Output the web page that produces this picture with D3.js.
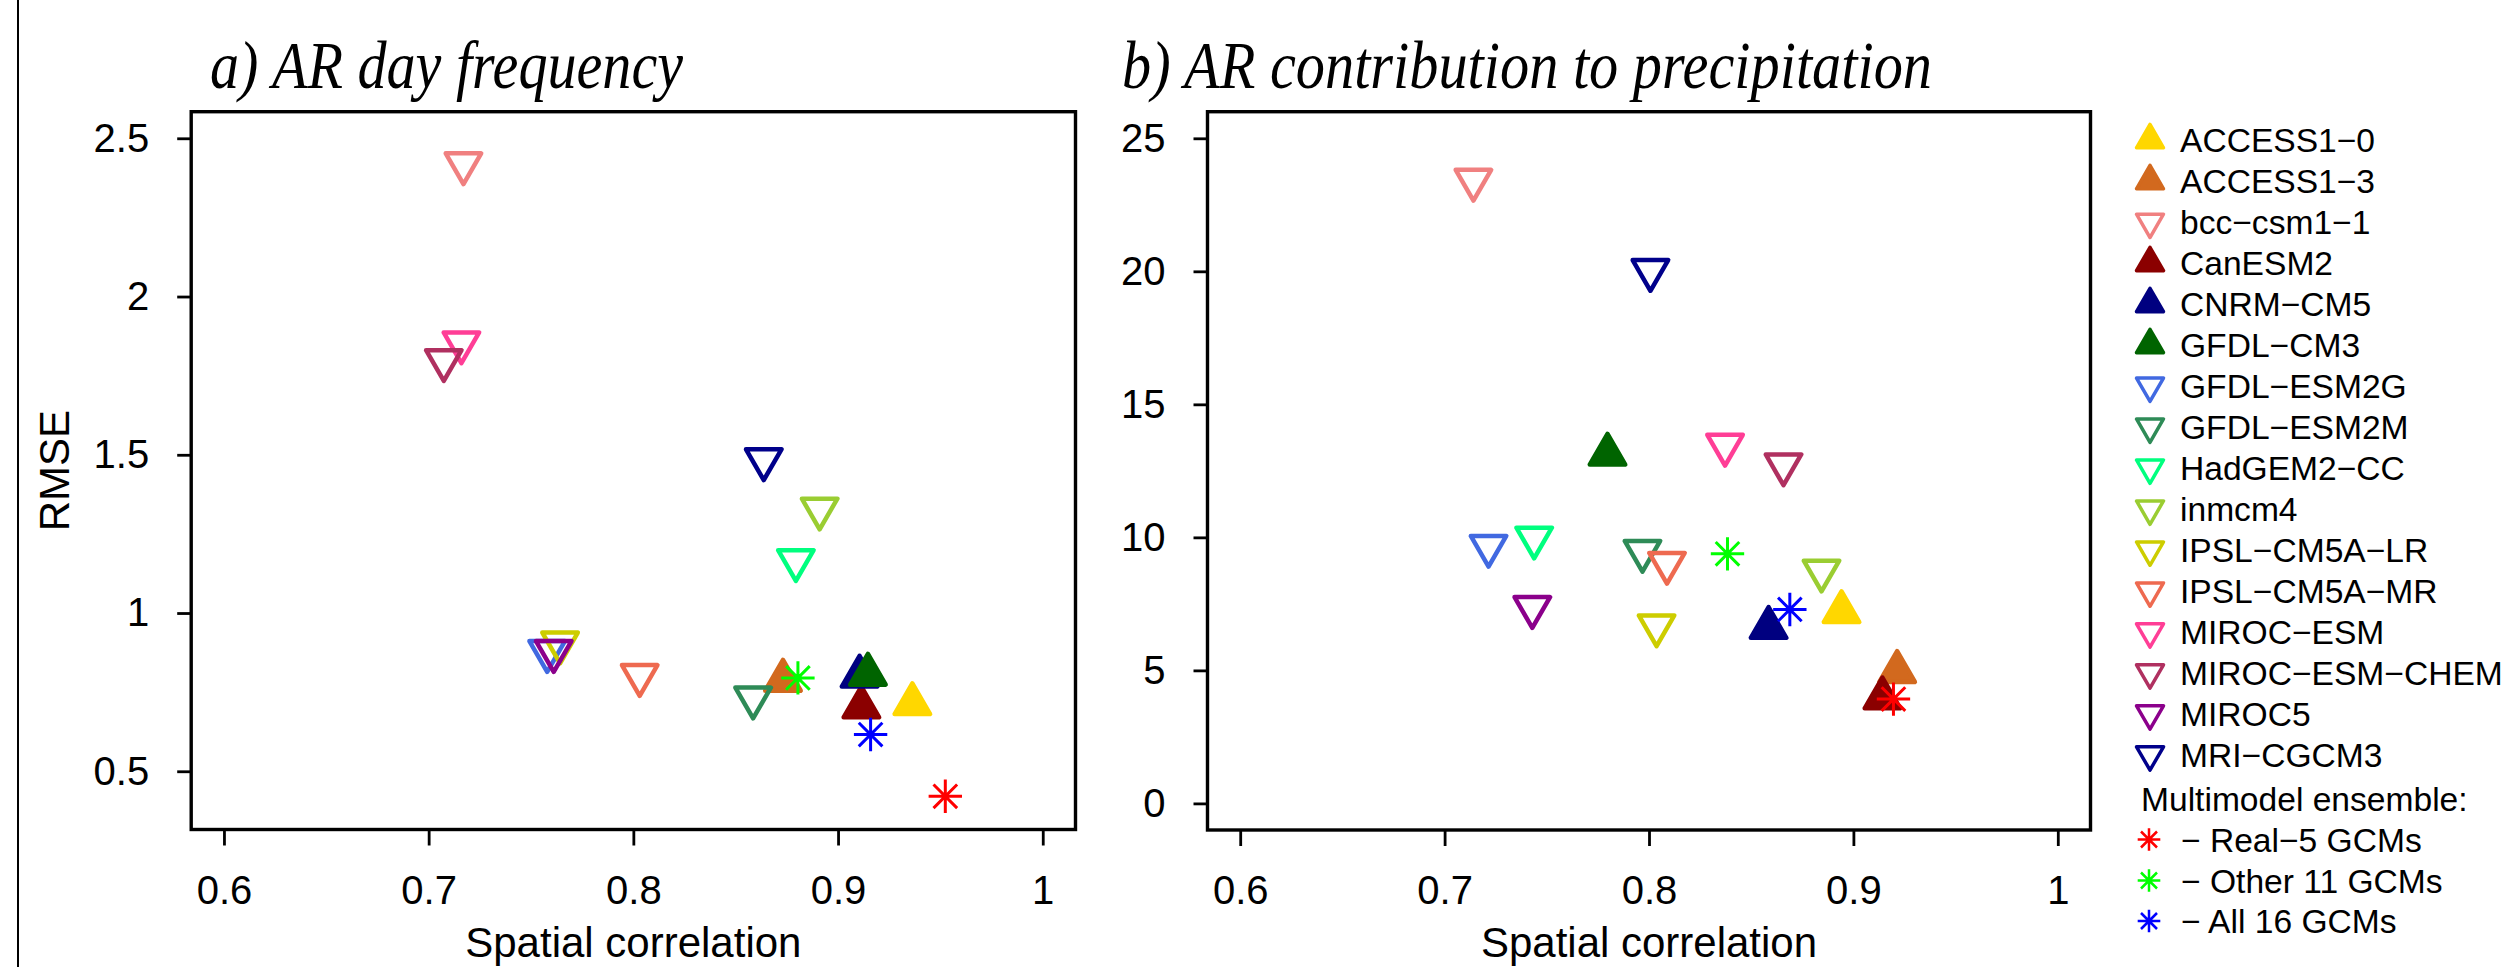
<!DOCTYPE html>
<html><head><meta charset="utf-8">
<script src="https://cdn.jsdelivr.net/npm/d3@7"></script>
<style>html,body{margin:0;padding:0;background:#fff;}</style>
</head><body>
<script>
// ---------------- data ----------------
const models = ["ACCESS1\u22120","ACCESS1\u22123","bcc\u2212csm1\u22121","CanESM2","CNRM\u2212CM5","GFDL\u2212CM3",
  "GFDL\u2212ESM2G","GFDL\u2212ESM2M","HadGEM2\u2212CC","inmcm4","IPSL\u2212CM5A\u2212LR","IPSL\u2212CM5A\u2212MR",
  "MIROC\u2212ESM","MIROC\u2212ESM\u2212CHEM","MIROC5","MRI\u2212CGCM3"];
const markerType = ["up","up","down","up","up","up","down","down","down","down","down","down","down","down","down","down"];
const modelColors = ["#FFD700","#D2691E","#F08080","#8B0000","#000080","#006400","#4169E1","#2E8B57",
  "#00FF7F","#9ACD32","#CDCD00","#EE6A50","#FF3E96","#B03060","#8B008B","#00008B"];

// panel a: AR day frequency
const freqCorr = [0.9363,0.8731,0.717,0.9114,0.9105,0.9146,0.7579,0.8585,0.8794,0.891,0.7642,0.8031,0.716,0.7074,0.7611,0.8637];
const freqRmse = [0.713,0.787,2.42,0.703,0.800,0.806,0.879,0.732,1.166,1.329,0.906,0.803,1.854,1.798,0.879,1.485];
// panel b: AR contribution to precipitation
const contCorr = [0.8942,0.9214,0.7141,0.9142,0.8585,0.7797,0.7215,0.7968,0.7438,0.8844,0.8037,0.8088,0.8372,0.8658,0.7429,0.8007];
const contRmse = [7.2,4.95,23.43,3.96,6.61,13.12,9.67,9.48,9.98,8.74,6.68,9.03,13.47,12.73,7.37,20.04];

// multimodel ensembles
const ensLabels = ["\u2212 Real\u22125 GCMs","\u2212 Other 11 GCMs","\u2212 All 16 GCMs"];
const ensColors = ["#FF0000","#00FF00","#0000FF"];
const ensFreqCorr = [0.9524,0.8804,0.9159];
const ensFreqRmse = [0.421,0.795,0.616];
const ensContCorr = [0.9196,0.8384,0.8689];
const ensContRmse = [3.92,9.38,7.29];

const xTicks = [0.6,0.7,0.8,0.9,1];
const xTickLabels = ["0.6","0.7","0.8","0.9","1"];
const yTicksA = [0.5,1,1.5,2,2.5];
const yTickLabelsA = ["0.5","1","1.5","2","2.5"];
const yTicksB = [0,5,10,15,20,25];
const yTickLabelsB = ["0","5","10","15","20","25"];
const titles = ["a) AR day frequency","b) AR contribution to precipitation"];
const xLabel = "Spatial correlation";
const yLabel = "RMSE";
const ensHeader = "Multimodel ensemble:";

// ---------------- drawing ----------------
const W = 2508, H = 967;
const SANS = "'Liberation Sans', Arial, Helvetica, sans-serif";
const SERIF = "'Liberation Serif', 'Times New Roman', serif";
const svg = d3.select("body").append("svg").attr("width", W).attr("height", H)
  .attr("viewBox", `0 0 ${W} ${H}`);
svg.append("rect").attr("width", W).attr("height", H).attr("fill", "#fff");

// stray vertical rule at far left
svg.append("line").attr("x1", 18).attr("x2", 18).attr("y1", 0).attr("y2", H)
  .attr("stroke", "#000").attr("stroke-width", 2);

function triPath(type, s) {
  const h = s * Math.sqrt(3) / 2;
  if (type === "up") return `M0,${-2*h/3}L${s/2},${h/3}L${-s/2},${h/3}Z`;
  return `M0,${2*h/3}L${s/2},${-h/3}L${-s/2},${-h/3}Z`;
}
function starPath(r) {
  const a = r * Math.SQRT2;
  return `M${-a},0L${a},0M0,${-a}L0,${a}M${-r},${-r}L${r},${r}M${-r},${r}L${r},${-r}`;
}
function drawTri(g, x, y, type, color, s, sw) {
  g.append("path").attr("d", triPath(type, s)).attr("transform", `translate(${x},${y})`)
    .attr("fill", type === "up" ? color : "none").attr("stroke", color)
    .attr("stroke-width", sw).attr("stroke-linejoin", "round").attr("stroke-linecap", "round");
}
function drawStar(g, x, y, color, r, sw) {
  g.append("path").attr("d", starPath(r)).attr("transform", `translate(${x},${y})`)
    .attr("fill", "none").attr("stroke", color).attr("stroke-width", sw);
}

const panels = [
  {left:191.2, right:1075.5, top:111.7, bottom:829.5, yDom:[0.316,2.584],
   yTicks:yTicksA, yLabels:yTickLabelsA, xs:freqCorr, ys:freqRmse, exs:ensFreqCorr, eys:ensFreqRmse,
   title:titles[0], titleX:210, titleLen:473, ylab:true},
  {left:1207.5, right:2090.5, top:111.7, bottom:830, yDom:[-1,26],
   yTicks:yTicksB, yLabels:yTickLabelsB, xs:contCorr, ys:contRmse, exs:ensContCorr, eys:ensContRmse,
   title:titles[1], titleX:1122, titleLen:810, ylab:false}
];

panels.forEach(p => {
  const x = d3.scaleLinear().domain([0.584, 1.016]).range([p.left, p.right]);
  const y = d3.scaleLinear().domain(p.yDom).range([p.bottom, p.top]);
  const g = svg.append("g");

  // x axis
  const gx = g.append("g").attr("transform", `translate(0,${p.bottom})`)
    .call(d3.axisBottom(x).tickValues(xTicks).tickSize(16).tickPadding(30)
      .tickFormat((d, i) => xTickLabels[i]));
  // y axis
  const gy = g.append("g").attr("transform", `translate(${p.left},0)`)
    .call(d3.axisLeft(y).tickValues(p.yTicks).tickSize(14).tickPadding(28)
      .tickFormat((d, i) => p.yLabels[i]));
  [gx, gy].forEach(a => {
    a.select(".domain").remove();
    a.selectAll(".tick line").attr("stroke", "#000").attr("stroke-width", 2.8);
    a.selectAll(".tick text").attr("fill", "#000").style("font-family", SANS).style("font-size", "40px");
  });

  // box
  g.append("rect").attr("x", p.left).attr("y", p.top)
    .attr("width", p.right - p.left).attr("height", p.bottom - p.top)
    .attr("fill", "none").attr("stroke", "#000").attr("stroke-width", 3.4);

  // points
  const pts = g.append("g");
  models.forEach((m, i) => drawTri(pts, x(p.xs[i]), y(p.ys[i]), markerType[i], modelColors[i], 35.5, 4.5));
  ensLabels.forEach((l, i) => drawStar(pts, x(p.exs[i]), y(p.eys[i]), ensColors[i], 11.8, 3));

  // titles and labels
  g.append("text").attr("x", p.titleX).attr("y", 88).text(p.title)
    .attr("textLength", p.titleLen).attr("lengthAdjust", "spacingAndGlyphs")
    .style("font-family", SERIF).style("font-style", "italic").style("font-size", "68px").attr("fill", "#000");
  g.append("text").attr("x", (p.left + p.right) / 2).attr("y", 957).attr("text-anchor", "middle")
    .text(xLabel).style("font-family", SANS).style("font-size", "42px").attr("fill", "#000");
  if (p.ylab) {
    g.append("text").attr("transform", `translate(69,${(p.top + p.bottom) / 2}) rotate(-90)`)
      .attr("text-anchor", "middle").text(yLabel)
      .style("font-family", SANS).style("font-size", "42px").attr("fill", "#000");
  }
});

// legend
const LFS = "33.6px";
const lg = svg.append("g");
models.forEach((m, i) => {
  const cy = 140 + i * 40.97;
  drawTri(lg, 2150, cy, markerType[i], modelColors[i], 27, 3.5);
  lg.append("text").attr("x", 2180).attr("y", cy + 12.2).text(m)
    .style("font-family", SANS).style("font-size", LFS).attr("fill", "#000");
});
lg.append("text").attr("x", 2141).attr("y", 811).text(ensHeader)
  .style("font-family", SANS).style("font-size", LFS).attr("fill", "#000");
const ensY = [839.5, 880.5, 921];
ensLabels.forEach((l, i) => {
  drawStar(lg, 2149, ensY[i], ensColors[i], 8, 2.5);
  lg.append("text").attr("x", 2181).attr("y", ensY[i] + 12.2).text(l)
    .style("font-family", SANS).style("font-size", LFS).attr("fill", "#000");
});
</script>
</body></html>
